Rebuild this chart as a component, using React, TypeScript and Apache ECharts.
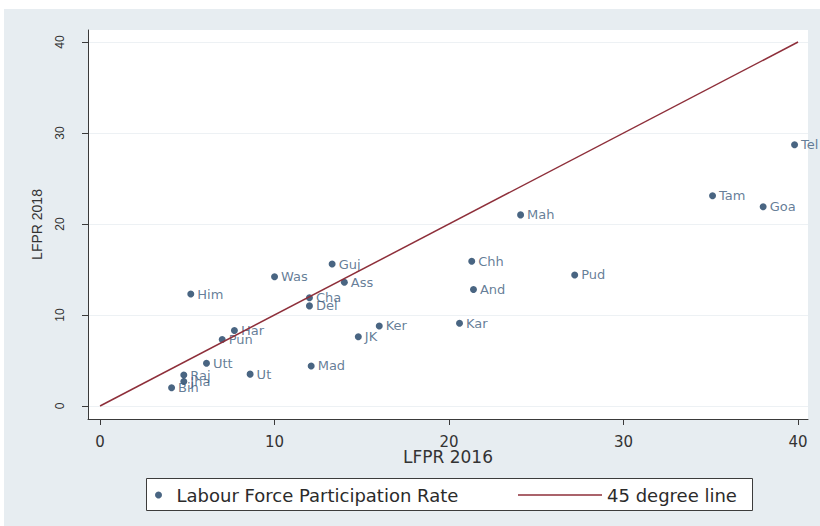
import React, { useEffect, useRef } from "react";
import * as echarts from "echarts";

// ---- data ----
const stateNames = ["Tel", "Tam", "Goa", "Mah", "Chh", "Pud", "And", "Kar", "Ker", "JK", "Mad", "Guj", "Was", "Ass", "Him", "Cha", "Del", "Har", "Pun", "Utt", "Ut", "Raj", "Jha", "Bih"];
const lfpr2016 = [39.8, 35.1, 38.0, 24.1, 21.3, 27.2, 21.4, 20.6, 16.0, 14.8, 12.1, 13.3, 10.0, 14.0, 5.2, 12.0, 12.0, 7.7, 7.0, 6.1, 8.6, 4.8, 4.8, 4.1];
const lfpr2018 = [28.7, 23.1, 21.9, 21.0, 15.9, 14.4, 12.8, 9.1, 8.8, 7.6, 4.4, 15.6, 14.2, 13.6, 12.3, 11.9, 11.0, 8.3, 7.3, 4.7, 3.5, 3.4, 2.7, 2.0];
const diagonalEnds = [0, 40];
const tickValues = [0, 10, 20, 30, 40];
const scatterName = "Labour Force Participation Rate";
const lineName = "45 degree line";

export default function App() {
  const ref = useRef<HTMLDivElement>(null);
  useEffect(() => {
    if (!ref.current) return;
    const chart = echarts.init(ref.current, null, { renderer: "svg" });
    const axisColor = "#3a3a3a";
    const lineColor = "#8e2f3a";
    const option: any = {
      animation: false,
      backgroundColor: "#e7edf1",
      graphic: [
        {
          type: "rect",
          shape: { x: 142.5, y: 469.5, width: 606, height: 32 },
          style: { fill: "#ffffff", stroke: "#3c3c3c", lineWidth: 1 },
          silent: true,
          z: 0,
        },
      ],
      grid: {
        left: 84,
        top: 21,
        width: 720,
        height: 389,
        show: true,
        backgroundColor: "#ffffff",
        borderWidth: 0,
      },
      legend: [
        {
          data: [{ name: scatterName, icon: "circle" }],
          left: 151,
          top: 477,
          padding: 0,
          itemWidth: 26,
          itemHeight: 7,
          selectedMode: false,
          textStyle: { fontSize: 18, fontFamily: "DejaVu Sans", color: "#2b2b2b" },
          z: 5,
        },
        {
          data: [{ name: lineName, icon: "rect", itemStyle: { color: lineColor } }],
          left: 514,
          top: 477,
          padding: 0,
          itemWidth: 84,
          itemHeight: 1.5,
          selectedMode: false,
          textStyle: { fontSize: 18, fontFamily: "DejaVu Sans", color: "#2b2b2b" },
          z: 5,
        },
      ],
      xAxis: {
        type: "value",
        min: -0.69,
        max: 40.57,
        axisLine: { show: true, onZero: false, lineStyle: { color: axisColor, width: 1 } },
        axisTick: { show: true, customValues: tickValues, length: 6, lineStyle: { color: axisColor } },
        axisLabel: { customValues: tickValues, margin: 15, fontSize: 15, fontFamily: "DejaVu Sans", color: "#333" },
        splitLine: { show: false },
        name: "LFPR 2016",
        nameLocation: "middle",
        nameGap: 29,
        nameMoveOverlap: false,
        nameTextStyle: { fontSize: 17, fontFamily: "DejaVu Sans", color: "#333" },
      },
      yAxis: {
        type: "value",
        min: -1.43,
        max: 41.32,
        axisLine: { show: true, onZero: false, lineStyle: { color: axisColor, width: 1 } },
        axisTick: { show: true, customValues: tickValues, length: 6, lineStyle: { color: axisColor } },
        axisLabel: { customValues: tickValues, rotate: 90, margin: 22, fontSize: 12, fontFamily: "Liberation Sans", color: "#333" },
        splitLine: { show: true, lineStyle: { color: "#edf1f4", width: 1 } },
        name: "LFPR 2018",
        nameLocation: "middle",
        nameRotate: 90,
        nameGap: 44,
        nameMoveOverlap: false,
        nameTextStyle: { fontSize: 14, fontFamily: "Liberation Sans", color: "#333" },
      },
      series: [
        {
          name: scatterName,
          type: "scatter",
          symbol: "circle",
          symbolSize: 7,
          itemStyle: { color: "#1c3f63" },
          label: {
            show: true,
            position: "right",
            distance: 3,
            formatter: "{b}",
            fontSize: 13,
            fontFamily: "DejaVu Sans",
            color: "#3d5c7d",
          },
          data: stateNames.map((n, i) => ({ name: n, value: [lfpr2016[i], lfpr2018[i]] })),
          z: 3,
        },
        {
          name: lineName,
          type: "line",
          symbol: "none",
          showSymbol: false,
          lineStyle: { color: lineColor, width: 1.5 },
          itemStyle: { color: lineColor },
          data: diagonalEnds.map((v) => [v, v]),
          z: 4,
        },
      ],
    };
    chart.setOption(option);
    return () => chart.dispose();
  }, []);
  return (
    <div style={{ position: "absolute", left: 0, top: 0, width: 820, height: 526, background: "#ffffff" }}>
      <div ref={ref} style={{ position: "absolute", left: 4, top: 9, width: 816, height: 517 }} />
    </div>
  );
}
